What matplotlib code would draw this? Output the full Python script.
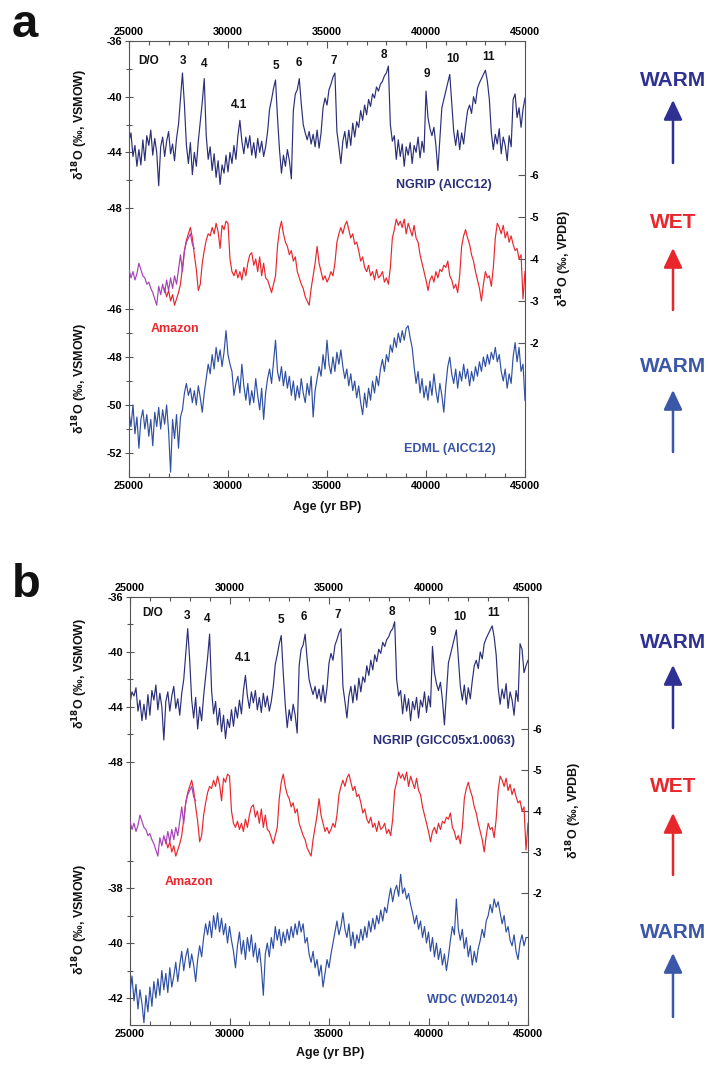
import numpy as np
import matplotlib
matplotlib.use("Agg")
import matplotlib.pyplot as plt

plt.rcParams["font.family"] = ["Liberation Sans", "DejaVu Sans"]
plt.rcParams["font.weight"] = "bold"
plt.rcParams["mathtext.default"] = "bf"
plt.rcParams["axes.unicode_minus"] = False

W, H = 708, 1065
STEP = 100  # years between values

# NGRIP d18O on AICC12, 25000-45000 yr BP (per-mil VSMOW)
ngrip_aicc = [
    -43.2, -42.6, -44.3, -43.5, -45.0, -43.8, -44.9, -43.1, -44.6, -42.8,
    -43.5, -42.4, -44.2, -43.0, -44.0, -46.4, -43.6, -42.9, -44.3, -43.2,
    -42.5, -44.1, -43.4, -44.6, -43.0, -42.0, -40.2, -38.3, -40.6, -43.5,
    -44.8, -43.3, -45.6, -44.0, -45.0, -43.2, -41.8, -40.4, -38.7, -42.8,
    -44.5, -43.6, -45.3, -44.1, -45.8, -44.6, -46.3, -44.9, -45.5, -44.2,
    -45.4, -44.0, -44.8, -43.5, -44.5, -42.8, -41.7, -43.2, -44.1, -42.9,
    -43.7, -42.8, -44.2, -43.3, -44.4, -43.0, -44.0, -43.2, -44.3, -43.6,
    -42.5, -40.9, -40.2, -39.4, -38.8, -41.5, -43.8, -45.5, -44.2, -45.0,
    -43.8, -44.6, -45.9, -41.0, -39.8, -39.5, -38.7, -40.5, -42.0, -42.6,
    -43.1, -42.5, -43.4, -42.7, -43.6, -42.4, -43.7, -42.6, -40.8, -40.1,
    -40.6, -39.5, -39.1, -38.6, -38.3, -42.5, -43.6, -44.8, -43.2, -42.5,
    -43.7, -42.4, -43.5, -41.9, -42.9, -41.8, -42.2, -41.0, -41.7, -40.6,
    -41.3, -40.2, -40.7, -39.8, -40.1, -39.3, -39.6, -39.1, -38.9, -38.5,
    -38.3, -37.8, -42.0, -43.2, -42.8, -44.5, -43.1, -44.3, -43.4, -45.0,
    -43.6, -44.2, -43.3, -44.8, -43.5, -44.0, -42.9, -44.4, -43.2, -44.0,
    -39.6, -41.5, -42.3, -42.8, -42.2, -43.5, -45.3, -43.0, -40.8, -40.2,
    -39.6, -39.0, -38.4, -40.5, -42.5, -43.5, -42.4, -43.8, -42.6, -43.4,
    -42.1, -41.0, -40.6, -41.2, -40.0, -40.5, -39.4, -39.0, -38.7, -38.4,
    -38.1, -38.9, -40.2, -42.6, -43.8, -42.7, -43.4, -42.3, -44.1, -42.9,
    -43.5, -44.6, -42.8, -43.6, -40.2, -39.8, -41.5, -40.8, -42.2, -40.9,
    -40.1,
]

# NGRIP d18O on GICC05x1.0063, 25000-45000 yr BP
ngrip_gicc = [
    -43.7, -42.9, -43.2, -42.6, -44.3, -43.5, -45.0, -43.8, -44.9, -43.1,
    -44.6, -42.8, -43.5, -42.4, -44.2, -43.0, -44.0, -46.4, -43.6, -42.9,
    -44.3, -43.2, -42.5, -44.1, -43.4, -44.6, -43.0, -42.0, -40.2, -38.3,
    -40.6, -43.5, -44.8, -43.3, -45.6, -44.0, -45.0, -43.2, -41.8, -40.4,
    -38.7, -42.8, -44.5, -43.6, -45.3, -44.1, -45.8, -44.6, -46.3, -44.9,
    -45.5, -44.2, -45.4, -44.0, -44.8, -43.5, -44.5, -42.8, -41.7, -43.2,
    -44.1, -42.9, -43.7, -42.8, -44.2, -43.3, -44.4, -43.0, -44.0, -43.2,
    -44.3, -43.6, -42.5, -40.9, -40.2, -39.4, -38.8, -41.5, -43.8, -45.5,
    -44.2, -45.0, -43.8, -44.6, -45.9, -41.0, -39.8, -39.5, -38.7, -40.5,
    -42.0, -42.6, -43.1, -42.5, -43.4, -42.7, -43.6, -42.4, -43.7, -42.6,
    -40.8, -40.1, -40.6, -39.5, -39.1, -38.6, -38.3, -42.5, -43.6, -44.8,
    -43.2, -42.5, -43.7, -42.4, -43.5, -41.9, -42.9, -41.8, -42.2, -41.0,
    -41.7, -40.6, -41.3, -40.2, -40.7, -39.8, -40.1, -39.3, -39.6, -39.1,
    -38.9, -38.5, -38.3, -37.8, -42.0, -43.2, -42.8, -44.5, -43.1, -44.3,
    -43.4, -45.0, -43.6, -44.2, -43.3, -44.8, -43.5, -44.0, -42.9, -44.4,
    -43.2, -44.0, -39.6, -41.5, -42.3, -42.8, -42.2, -43.5, -45.3, -43.0,
    -40.8, -40.2, -39.6, -39.0, -38.4, -40.5, -42.5, -43.5, -42.4, -43.8,
    -42.6, -43.4, -42.1, -41.0, -40.6, -41.2, -40.0, -40.5, -39.4, -39.0,
    -38.7, -38.4, -38.1, -38.9, -40.2, -42.6, -43.8, -42.7, -43.4, -42.3,
    -44.1, -42.9, -43.5, -44.6, -42.8, -43.6, -39.4, -39.8, -41.5, -41.0,
    -40.6,
]

# Amazon speleothem d18O (per-mil VPDB), main record from 26800 yr BP
amazon_start = 26800
amazon = [
    -3.3, -3.1,
    -3.25, -3.0, -3.15, -2.9, -3.05, -3.2, -3.4, -3.8, -4.2, -4.45,
    -4.6, -4.75, -4.5, -4.1, -3.75, -3.25, -3.4, -3.9, -4.2, -4.45,
    -4.6, -4.55, -4.75, -4.6, -4.85, -4.65, -4.25, -4.8, -4.7, -4.9,
    -4.85, -4.0, -3.7, -3.6, -3.75, -3.55, -3.7, -3.5, -3.8, -3.6,
    -3.9, -4.1, -4.15, -3.85, -4.0, -3.7, -4.05, -3.6, -3.9, -3.55,
    -3.5, -3.35, -3.2, -3.4, -3.6, -4.3, -4.7, -4.9, -4.6, -4.4,
    -4.3, -4.1, -4.2, -3.95, -4.05, -3.7, -3.55, -3.4, -3.3, -3.1,
    -3.0, -2.9, -3.3, -3.6, -3.9, -4.3, -3.9, -3.7, -3.5, -3.6,
    -3.45, -3.55, -3.7, -3.6, -3.9, -4.4, -4.6, -4.75, -4.6, -4.8,
    -4.9, -4.7, -4.5, -4.6, -4.35, -4.4, -4.2, -3.95, -4.05, -3.8,
    -3.7, -3.85, -3.6, -3.7, -3.5, -3.75, -3.55, -3.6, -3.7, -3.45,
    -3.55, -3.4, -3.8, -4.5, -4.7, -4.95, -4.8, -4.9, -4.75, -4.95,
    -4.6, -4.85, -4.7, -4.55, -4.8, -4.5, -4.4, -4.1, -3.9, -3.7,
    -3.5, -3.25, -3.5, -3.6, -3.45, -3.7, -3.55, -3.75, -3.7, -3.85,
    -3.8, -3.95, -3.6, -3.5, -3.3, -3.4, -3.2, -3.6, -4.3, -4.55,
    -4.7, -4.5, -4.35, -4.1, -3.95, -3.7, -3.5, -3.3, -3.0, -3.4,
    -3.7, -3.55, -3.6, -3.35, -3.8, -4.5, -4.85, -4.75, -4.6, -4.8,
    -4.5, -4.65, -4.4, -4.55, -4.35, -4.2, -4.25, -4.0, -4.1, -3.05,
    -3.7,
]

# second (purple) speleothem, 25000-28300 yr BP
amazon_purple = [
    -3.75, -3.55, -3.7, -3.5, -3.65, -3.9, -3.75, -3.6, -3.55, -3.4,
    -3.45, -3.3, -3.2, -3.05, -2.9, -3.35, -3.15, -3.4, -3.2, -3.5,
    -3.25, -3.55, -3.3, -3.6, -3.4, -3.75, -4.1, -3.7, -4.2, -4.4,
    -4.5, -4.6, -4.35, -4.25,
]

# EDML d18O on AICC12, 25000-45000 yr BP
edml = [
    -50.3, -50.9, -50.0, -51.2, -50.5, -51.8, -50.6, -50.2, -51.0, -50.4,
    -51.3, -50.6, -51.7, -50.3, -50.9, -50.1, -51.0, -50.2, -50.8, -50.0,
    -51.1, -52.8, -50.6, -51.4, -50.4, -51.8, -50.5, -50.2, -49.5, -49.1,
    -49.6, -49.3, -49.9, -49.4, -50.0, -49.2, -49.7, -50.3, -49.5, -48.9,
    -48.3, -48.7, -47.9, -48.5, -47.6, -48.2, -47.7, -48.4, -47.8, -46.9,
    -47.9, -48.3, -48.6, -49.6, -49.1, -48.8, -49.5, -48.3, -49.2, -49.8,
    -49.1, -50.0, -49.4, -49.9, -48.9, -49.6, -50.2, -49.3, -50.6, -49.5,
    -48.9, -48.5, -49.1, -48.2, -47.3, -48.6, -49.0, -48.4, -49.2, -48.6,
    -49.3, -48.8, -49.6, -49.0, -49.8, -49.2, -49.7, -48.9, -49.5, -49.9,
    -49.1, -49.6, -48.8, -50.5, -49.4, -48.9, -48.4, -48.8, -47.9, -48.5,
    -47.3, -48.3, -48.7, -48.0, -48.6, -47.8, -48.3, -47.7, -48.4, -48.9,
    -48.5, -49.2, -48.7, -49.4, -49.0, -49.7, -49.2, -49.9, -50.4, -49.5,
    -50.1, -49.3, -49.8, -49.0, -49.5, -48.8, -49.2, -48.5, -48.1, -48.6,
    -47.9, -48.2, -47.5, -47.8, -47.2, -47.6, -47.0, -47.4, -46.9, -47.3,
    -46.8, -46.7, -47.2, -47.6, -48.4, -49.1, -48.6, -49.5, -48.9, -49.7,
    -49.2, -49.8, -49.0, -49.6, -48.7, -49.4, -49.9, -49.1, -49.6, -50.3,
    -49.2, -48.4, -48.0, -48.7, -49.1, -48.5, -49.3, -48.6, -49.0, -48.3,
    -48.9, -48.5, -49.2, -48.6, -49.0, -48.4, -48.8, -48.2, -48.6, -48.0,
    -48.4, -47.9, -48.3, -47.8, -48.1, -47.6, -48.2, -47.9, -48.6, -49.0,
    -48.5, -49.3, -48.7, -49.1, -48.0, -47.4, -48.2, -47.6, -48.6, -48.3,
    -49.8,
]

# WDC d18O on WD2014, 25000-45000 yr BP
wdc = [
    -41.8, -41.2, -42.1, -41.5, -42.4, -41.7, -42.2, -42.9, -41.9, -42.5,
    -41.6, -42.3, -41.4, -42.0, -41.3, -41.9, -41.0, -41.7, -41.1, -41.8,
    -40.9, -41.6, -41.2, -40.7, -41.4, -40.8, -40.3, -41.0, -40.5, -40.2,
    -40.9, -40.4, -40.8, -41.4, -40.6, -40.1, -40.5, -39.8, -39.3, -39.7,
    -39.2, -39.8, -39.0, -39.5, -38.9, -39.6, -39.1, -39.7, -39.3, -40.0,
    -39.4, -39.9, -40.3, -40.9, -40.1, -39.6, -40.4, -39.9, -40.6, -39.8,
    -40.3, -39.7, -40.5, -40.0, -40.7, -40.2, -40.9, -41.9, -40.4, -40.0,
    -40.5, -39.8, -40.2, -39.4, -39.9, -39.5, -40.1, -39.6, -40.0, -39.5,
    -39.9, -39.4, -39.8, -39.3, -39.7, -39.2, -39.6, -39.3, -40.0, -39.8,
    -40.4, -40.7, -40.3, -40.9, -40.6, -41.2, -40.8, -41.6, -41.1, -40.6,
    -40.9, -40.4, -40.0, -39.6, -39.2, -39.7, -39.4, -38.9, -39.5, -39.8,
    -39.3, -40.1, -39.6, -40.2, -39.7, -40.0, -39.5, -39.9, -39.4, -39.8,
    -39.2, -39.6, -39.1, -39.5, -39.0, -39.3, -38.8, -39.2, -38.7, -38.9,
    -38.4, -38.0, -38.5, -38.1, -37.9, -38.3, -37.5, -38.2, -38.0, -38.4,
    -38.2, -38.6, -38.9, -39.3, -39.0, -39.5, -39.2, -39.8, -39.4, -40.0,
    -39.6, -40.3, -39.8, -40.5, -40.0, -40.6, -40.2, -40.8, -40.4, -41.0,
    -40.5, -39.9, -39.4, -39.7, -38.4, -39.5, -39.9, -39.5, -40.2, -39.8,
    -40.5, -40.1, -40.8, -40.3, -40.7, -40.2, -39.9, -39.5, -39.8, -39.2,
    -39.0, -38.6, -38.9, -38.4, -38.7, -38.5, -38.9, -39.3, -39.0, -39.6,
    -39.4, -39.9, -40.1, -39.7, -40.3, -40.6, -40.0, -39.7, -40.1, -39.8,
    -39.8,
]

do_labels = ["D/O", "3", "4", "4.1", "5", "6", "7", "8", "9", "10", "11"]
do_x_a = [25980, 27740, 28770, 30570, 32410, 33600, 35320, 37850, 40030, 41380, 43180]
do_y_a = [-37.42, -37.42, -37.65, -40.62, -37.77, -37.56, -37.42, -37.0, -38.39, -37.29, -37.17]
do_x_b = [26160, 27860, 28870, 30680, 32590, 33740, 35450, 38150, 40210, 41580, 43260]
do_y_b = [-37.16, -37.38, -37.6, -40.44, -37.67, -37.45, -37.31, -37.09, -38.52, -37.45, -37.14]

NAVY = "#2b2f78"
RED = "#e8272d"
PURPLE = "#a542b8"
BLUE = "#2f4fa2"
SPINE = "#555555"
TICKFS = 7.8
LW = 0.85


def ages(start, n):
    return start + STEP * np.arange(n)


fig = plt.figure(figsize=(W / 100, H / 100), dpi=100)


def panel(box, ngrip, ng_lim, low, low_lim, low_major, low_minor, amz_lim, do_x, do_y):
    x0, y0, x1, y1 = box
    ax = fig.add_axes([x0 / W, 1 - y1 / H, (x1 - x0) / W, (y1 - y0) / H])
    ax_lo = ax.twinx()
    ax_r = ax.twinx()

    ax.plot(ages(25000, len(ngrip)), ngrip, color=NAVY, lw=LW)
    ax_lo.plot(ages(25000, len(low)), low, color=BLUE, lw=LW)
    ax_r.plot(ages(amazon_start, len(amazon)), amazon, color=RED, lw=LW)
    ax_r.plot(ages(25000, len(amazon_purple)), amazon_purple, color=PURPLE, lw=LW)

    ax.set_xlim(25000, 45000)
    ax.set_xticks(np.arange(25000, 45001, 5000))
    ax.set_xticks(np.arange(25000, 45001, 1000), minor=True)
    ax.tick_params(axis="x", which="both", direction="in", top=True, bottom=True,
                   labeltop=True, labelbottom=True, labelsize=TICKFS, pad=3,
                   width=0.8, color=SPINE)
    ax.tick_params(axis="x", which="major", length=5)
    ax.tick_params(axis="x", which="minor", length=3)

    ax.set_ylim(*ng_lim)
    ax.set_yticks([-36, -40, -44, -48])
    ax.set_yticks([-38, -42, -46], minor=True)
    ax_lo.set_ylim(*low_lim)
    ax_lo.set_yticks(low_major)
    ax_lo.set_yticks(low_minor, minor=True)
    ax_lo.yaxis.tick_left()
    for a in (ax, ax_lo):
        a.tick_params(axis="y", which="both", direction="inout", labelsize=TICKFS,
                      pad=2, width=0.8, color=SPINE)
        a.tick_params(axis="y", which="major", length=6)
        a.tick_params(axis="y", which="minor", length=5)

    ax_r.set_ylim(*amz_lim)
    ax_r.set_yticks([-6, -5, -4, -3, -2])
    ax_r.tick_params(axis="y", which="major", direction="in", length=5,
                     labelsize=TICKFS, pad=3, width=0.8, color=SPINE)

    for s in ax.spines.values():
        s.set_linewidth(0.8)
        s.set_color(SPINE)
    for a in (ax_lo, ax_r):
        for s in a.spines.values():
            s.set_visible(False)

    for lab, xx, yy in zip(do_labels, do_x, do_y):
        ax.text(xx, yy, lab, fontsize=8.5, ha="center", va="center", color="#111111")
    return ax


panel((129, 41, 525, 477), ngrip_aicc, (-67.32, -36), edml, (-53, -34.83),
      [-46, -48, -50, -52], [-47, -49, -51], (1.19, -9.19), do_x_a, do_y_a)
panel((130, 597, 528, 1025), ngrip_gicc, (-67.13, -36), wdc, (-42.98, -27.42),
      [-38, -40, -42], [-37, -39, -41], (1.22, -9.22), do_x_b, do_y_b)

# overlay in pixel coordinates for labels and arrows
ov = fig.add_axes([0, 0, 1, 1])
ov.set_xlim(0, W)
ov.set_ylim(H, 0)
ov.axis("off")
ov.patch.set_visible(False)

vsmow = "δ$^{18}$O (‰, VSMOW)"
vpdb = "δ$^{18}$O (‰, VPDB)"
for (x, y, s, rot) in [(80, 124, vsmow, 90), (80, 378, vsmow, 90),
                       (564, 258, vpdb, 90),
                       (80, 673, vsmow, 90), (80, 919, vsmow, 90),
                       (574, 810, vpdb, 90)]:
    ov.text(x, y, s, rotation=rot, fontsize=9, ha="center", va="center", color="#111111")

ov.text(327, 507, "Age (yr BP)", fontsize=9, ha="center", va="center", color="#111111")
ov.text(330, 1053, "Age (yr BP)", fontsize=9, ha="center", va="center", color="#111111")

ov.text(12, 37, "a", fontsize=34, ha="left", va="baseline", color="#111111")
ov.text(12, 597, "b", fontsize=34, ha="left", va="baseline", color="#111111")

for (x, y, s, c) in [(444, 185, "NGRIP (AICC12)", NAVY), (175, 329, "Amazon", RED),
                     (450, 449, "EDML (AICC12)", "#3953a4"),
                     (444, 741, "NGRIP (GICC05x1.0063)", NAVY), (189, 882, "Amazon", RED),
                     (472, 1000, "WDC (WD2014)", "#3953a4")]:
    ov.text(x, y, s, fontsize=9, ha="center", va="center", color=c)

side = [("WARM", 80, 163, 100, "#2e3192"), ("WET", 223, 310, 248, RED),
        ("WARM", 367, 452, 390, "#3b57a7"),
        ("WARM", 643, 728, 665, "#2e3192"), ("WET", 787, 875, 813, RED),
        ("WARM", 932, 1017, 953, "#3b57a7")]
for word, ty, tail, head, c in side:
    ov.text(673, ty, word, fontsize=15, ha="center", va="center", color=c)
    ov.annotate("", xy=(673, head), xytext=(673, tail),
                arrowprops=dict(arrowstyle="-|>,head_length=0.8,head_width=0.38",
                                color=c, lw=1.8, mutation_scale=15, shrinkA=0, shrinkB=0))

fig.savefig("out.png", dpi=100)
